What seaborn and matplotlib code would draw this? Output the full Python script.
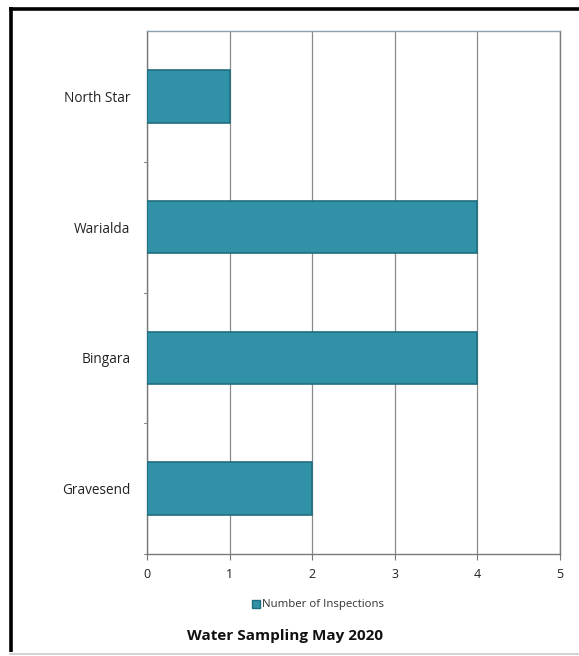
import matplotlib
matplotlib.use("Agg")
import matplotlib.pyplot as plt
from matplotlib.lines import Line2D
from matplotlib.patches import Patch
import seaborn as sns
import pandas as pd

sites = ["North Star", "Warialda", "Bingara", "Gravesend"]
inspections = [1, 4, 4, 2]
x_ticks = [0, 1, 2, 3, 4, 5]
series_name = "Number of Inspections"
title = "Water Sampling May 2020"

df = pd.DataFrame({"Site": sites, "Inspections": inspections})

sns.set_style("white")
plt.rcParams["font.family"] = ["Open Sans", "DejaVu Sans"]

W, H = 579, 656
fig = plt.figure(figsize=(W / 100, H / 100), dpi=100)
ax = fig.add_axes([147 / W, 1 - 554 / H, (560 - 147) / W, (554 - 31) / H])

bar_color = "#3192a7"
sns.barplot(data=df, x="Inspections", y="Site", order=sites, orient="h",
            color=bar_color, width=0.4, edgecolor="#1f6e7e", linewidth=1.2,
            saturation=1, ax=ax, zorder=3)

ax.set_xlim(0, 5)
ax.set_ylim(3.5, -0.5)
ax.set_xticks(x_ticks)
ax.set_xticklabels([str(t) for t in x_ticks], fontsize=9, color="#222222")
ax.set_xlabel("")
ax.set_ylabel("")
ax.tick_params(axis="y", length=0, labelsize=9.8, labelcolor="#222222", pad=12)
ax.tick_params(axis="x", length=4, width=0.8, color="#777777", pad=6, direction="out",
               bottom=True)
ax.grid(axis="x", color="#8a8a8a", linewidth=0.9, zorder=0)

# small tick marks between categories on the value axis
for b in [0.5, 1.5, 2.5, 3.5]:
    ax.plot([-0.04, 0], [b, b], color="#888888", linewidth=0.8, clip_on=False,
            transform=ax.transData)

for side, spine in ax.spines.items():
    spine.set_visible(True)
    spine.set_color("#7a7a7a")
    spine.set_linewidth(1.0)
ax.spines["top"].set_color("#8aa0ae")

# legend and title below the plot
leg_handle = Patch(facecolor=bar_color, edgecolor="#1f6e7e")
fig.legend([leg_handle], [series_name], loc="center", bbox_to_anchor=(318 / W, 1 - 605 / H),
           frameon=False, fontsize=8.2, handlelength=0.7, handleheight=0.7,
           handletextpad=0.2, labelcolor="#333333")
fig.text(285 / W, 1 - 636 / H, title, ha="center", va="center", fontsize=11,
         fontweight="bold", color="#111111")

# outer frame
fig.add_artist(Line2D([9 / W, 1], [1 - 8.5 / H, 1 - 8.5 / H], color="black",
                      linewidth=2.6, solid_capstyle="butt"))
fig.add_artist(Line2D([10.5 / W, 10.5 / W], [1 - 7 / H, 1 - 652 / H], color="black",
                      linewidth=2.6, solid_capstyle="butt"))
fig.add_artist(Line2D([9 / W, 1], [1 - 653.5 / H, 1 - 653.5 / H], color="#cccccc",
                      linewidth=1.2, solid_capstyle="butt"))

fig.savefig("out.png", dpi=100)
